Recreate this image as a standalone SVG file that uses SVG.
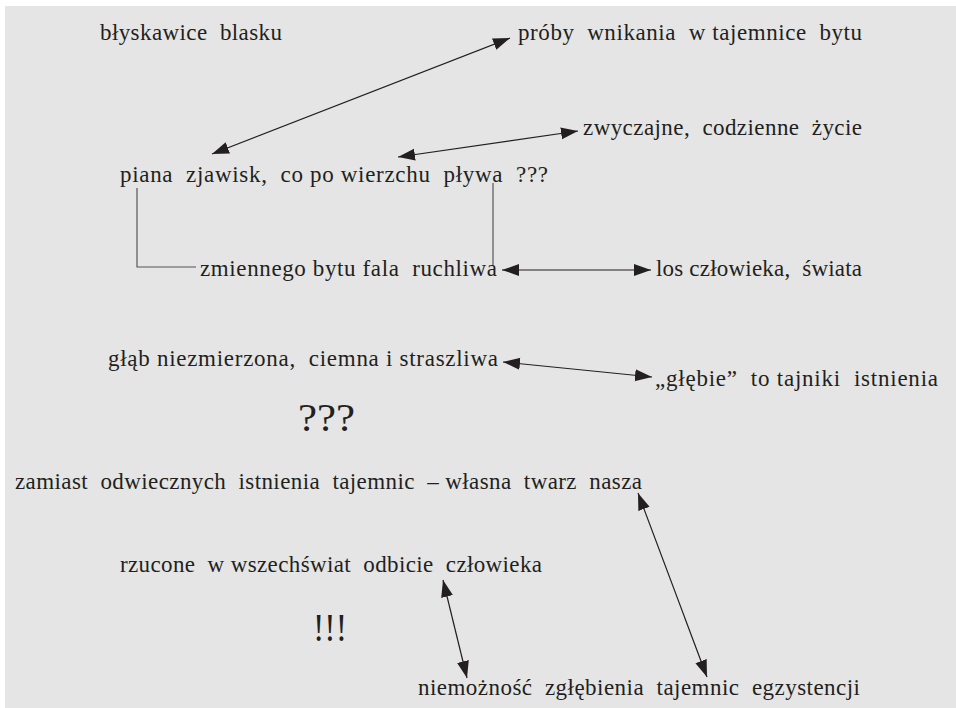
<svg xmlns="http://www.w3.org/2000/svg" width="956" height="708" viewBox="0 0 956 708">
<defs>
<style>
text{font-family:"Liberation Serif","Times New Roman",serif;font-size:23px;fill:#231f20;}
.big{font-size:40px;}
.arr{fill:none;stroke:#231f20;stroke-width:1.2;marker-start:url(#ah);marker-end:url(#ah);}
.br{fill:none;stroke:#555;stroke-width:1.2;}
</style>
<marker id="ah" markerUnits="userSpaceOnUse" markerWidth="18" markerHeight="13" refX="17" refY="6" orient="auto-start-reverse" viewBox="0 0 18 12">
<path d="M0,0 L17,6 L0,12 z" fill="#231f20"/>
</marker>
</defs>
<rect x="0" y="0" width="956" height="708" fill="#ffffff"/>
<rect x="5" y="6" width="951" height="702" fill="#e5e5e5"/>
<g id="connectors">
<path class="arr" d="M212,154 L510,38"/>
<path class="arr" d="M398,157 L578,131"/>
<path class="br" d="M137,188 V267 H196"/>
<path class="br" d="M493,183 V266"/>
<path class="arr" d="M502,270 L651,270"/>
<path class="arr" d="M503,362 L652,377"/>
<path class="arr" d="M638,493 L707,677"/>
<path class="arr" d="M443,580 L467,678"/>
</g>
<g id="n1"><text x="100" y="40" textLength="182" lengthAdjust="spacing" xml:space="preserve">błyskawice  blasku</text></g>
<g id="n2"><text x="518" y="40" textLength="344" lengthAdjust="spacing" xml:space="preserve">próby  wnikania  w tajemnice  bytu</text></g>
<g id="n3"><text x="583" y="135" textLength="279" lengthAdjust="spacing" xml:space="preserve">zwyczajne,  codzienne  życie</text></g>
<g id="n4"><text x="120" y="182" textLength="428" lengthAdjust="spacing" xml:space="preserve">piana  zjawisk,  co po wierzchu  pływa  ???</text></g>
<g id="n5"><text x="200" y="276" textLength="297" lengthAdjust="spacing" xml:space="preserve">zmiennego bytu fala  ruchliwa</text></g>
<g id="n6"><text x="656" y="276" textLength="206" lengthAdjust="spacing" xml:space="preserve">los człowieka,  świata</text></g>
<g id="n7"><text x="108" y="366" textLength="390" lengthAdjust="spacing" xml:space="preserve">głąb niezmierzona,  ciemna i straszliwa</text></g>
<g id="n8"><text x="655" y="386" textLength="283" lengthAdjust="spacing" xml:space="preserve">„głębie”  to tajniki  istnienia</text></g>
<g id="n9"><text class="big" x="298" y="431" textLength="57" lengthAdjust="spacingAndGlyphs">???</text></g>
<g id="n10"><text x="15" y="489" textLength="627" lengthAdjust="spacing" xml:space="preserve">zamiast  odwiecznych  istnienia  tajemnic  – własna  twarz  nasza</text></g>
<g id="n11"><text x="120" y="572" textLength="422" lengthAdjust="spacing" xml:space="preserve">rzucone  w wszechświat  odbicie  człowieka</text></g>
<g id="n12"><text class="big" x="313" y="641" textLength="34" lengthAdjust="spacingAndGlyphs">!!!</text></g>
<g id="n13"><text x="418" y="695" textLength="442" lengthAdjust="spacing" xml:space="preserve">niemożność  zgłębienia  tajemnic  egzystencji</text></g>
</svg>
